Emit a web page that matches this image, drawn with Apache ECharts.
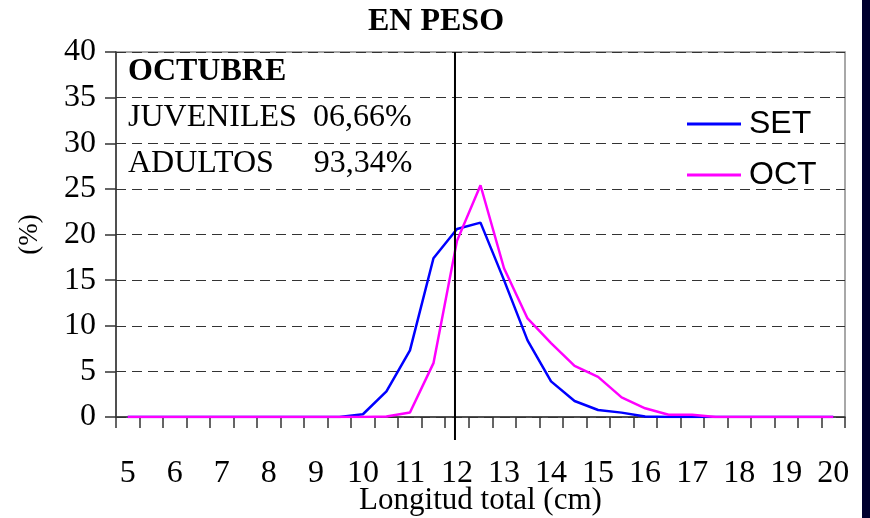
<!DOCTYPE html>
<html>
<head>
<meta charset="utf-8">
<script src="https://cdn.jsdelivr.net/npm/echarts@6/dist/echarts.min.js"></script>
<style>
  html, body { margin: 0; padding: 0; background: #ffffff; }
  #chart { width: 870px; height: 518px; }
</style>
</head>
<body>
<div id="chart"></div>
<script>
// Categories: total length (cm), every half centimetre
const categories = ['5','5.5','6','6.5','7','7.5','8','8.5','9','9.5','10','10.5','11','11.5','12','12.5','13','13.5','14','14.5','15','15.5','16','16.5','17','17.5','18','18.5','19','19.5','20'];
// SET (September) percent by weight
const setValues = [0,0,0,0,0,0,0,0,0,0,0.3,2.8,7.3,17.4,20.6,21.3,15.0,8.4,3.9,1.75,0.77,0.48,0.05,0,0,0,0,0,0,0,0];
// OCT (October) percent by weight
const octValues = [0,0,0,0,0,0,0,0,0,0,0,0.05,0.5,5.9,19.3,25.4,16.3,10.8,8.1,5.6,4.4,2.15,0.95,0.25,0.25,0,0,0,0,0,0];
const yTicks = [0,5,10,15,20,25,30,35,40];
const cutCategory = '12';

const serif = '"Liberation Serif", "Times New Roman", serif';
const sans = '"Liberation Sans", Arial, sans-serif';

const chart = echarts.init(document.getElementById('chart'), null, { renderer: 'canvas' });

const option = {
  animation: false,
  backgroundColor: '#ffffff',
  grid: {
    left: 116, right: 25, top: 52, bottom: 101,
    outerBoundsMode: 'none',
    containLabel: false,
    show: true, borderColor: '#8c8c8c', borderWidth: 1.5, backgroundColor: 'transparent'
  },
  legend: {
    orient: 'vertical',
    left: 682, top: 103,
    itemWidth: 54, itemHeight: 3, itemGap: 19,
    icon: 'rect',
    textStyle: { fontFamily: sans, fontSize: 32, color: '#000', padding: [0, 0, 0, 3] },
    data: ['SET', 'OCT']
  },
  xAxis: {
    type: 'category',
    data: categories,
    boundaryGap: true,
    axisLine: { lineStyle: { color: '#333', width: 1.5 } },
    axisTick: { show: true, interval: 0, length: 11, lineStyle: { color: '#333', width: 1.5 } },
    axisLabel: { interval: 1, margin: 41, fontFamily: serif, fontSize: 32, color: '#000' },
    name: 'Longitud total (cm)',
    nameLocation: 'middle',
    nameGap: 68,
    nameMoveOverlap: false,
    nameTextStyle: { fontFamily: serif, fontSize: 31, color: '#000' },
    splitLine: { show: false }
  },
  yAxis: {
    type: 'value',
    min: yTicks[0], max: yTicks[yTicks.length - 1], interval: 5,
    axisLine: { show: true, lineStyle: { color: '#333', width: 1.5 } },
    axisTick: { show: true, length: 11, lineStyle: { color: '#333', width: 1.5 } },
    axisLabel: { margin: 20, fontFamily: serif, fontSize: 32, color: '#000' },
    splitLine: { show: true, lineStyle: { color: '#333', type: [10, 6], width: 1 } },
    name: '(%)',
    nameLocation: 'middle',
    nameGap: 73,
    nameMoveOverlap: false,
    nameRotate: 90,
    nameTextStyle: { fontFamily: serif, fontSize: 27, color: '#000' }
  },
  series: [
    {
      name: 'SET', type: 'line', data: setValues,
      symbol: 'none', color: '#0000ff',
      lineStyle: { color: '#0000ff', width: 2.5 }
    },
    {
      name: 'OCT', type: 'line', data: octValues,
      symbol: 'none', color: '#ff00ff',
      lineStyle: { color: '#ff00ff', width: 2.5 }
    }
  ],
  graphic: [
    { type: 'text', left: 368, top: 6,
      style: { text: 'EN PESO', font: 'bold 32px ' + serif, fill: '#000' } },
    { type: 'text', left: 128, top: 56,
      style: { text: 'OCTUBRE', font: 'bold 32px ' + serif, fill: '#000' } },
    { type: 'text', left: 128, top: 102,
      style: { text: 'JUVENILES  06,66%', font: '32px ' + serif, fill: '#000' } },
    { type: 'text', left: 128, top: 148,
      style: { text: 'ADULTOS     93,34%', font: '32px ' + serif, fill: '#000' } },
    { type: 'rect', right: 0, top: 0, shape: { width: 8, height: 518 }, style: { fill: '#00002e' } }
  ]
};

chart.setOption(option);

// Vertical reference line at 12 cm, positioned through the axis scale
const xCut = chart.convertToPixel({ xAxisIndex: 0 }, cutCategory) - 2;
const yTop = chart.convertToPixel({ yAxisIndex: 0 }, yTicks[yTicks.length - 1]);
const yZero = chart.convertToPixel({ yAxisIndex: 0 }, 0);
chart.setOption({
  graphic: option.graphic.concat([
    { type: 'line', z: 100, shape: { x1: xCut, y1: yTop, x2: xCut, y2: yZero + 23 },
      style: { stroke: '#000', lineWidth: 2 } }
  ])
});
</script>
</body>
</html>
